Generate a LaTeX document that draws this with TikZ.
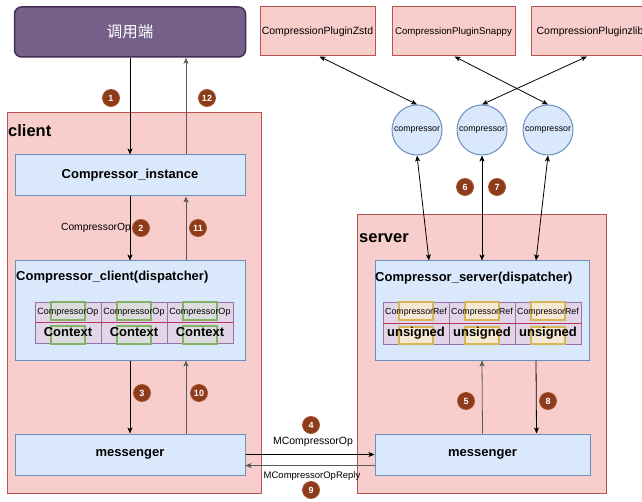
\documentclass[tikz,border=0pt]{standalone}
\usepackage{fontspec}
\setmainfont{Liberation Sans}
\newfontfamily\cjkfont{Noto Sans CJK SC}
\usepackage{xcolor}
\usetikzlibrary{positioning,calc,arrows.meta}
\definecolor{pinkfill}{HTML}{F8CECC}
\definecolor{pinkline}{HTML}{B85450}
\definecolor{bluefill}{HTML}{DAE8FC}
\definecolor{blueline}{HTML}{6C8EBF}
\definecolor{callerfill}{HTML}{76608A}
\definecolor{callerline}{HTML}{432D57}
\definecolor{cellfill}{HTML}{E1D5E7}
\definecolor{cellline}{HTML}{9673A6}
\definecolor{divline}{HTML}{B3385E}
\definecolor{greenline}{HTML}{82B366}
\definecolor{greenfill}{HTML}{D5E8D4}
\definecolor{yellowline}{HTML}{D6B656}
\definecolor{yellowfill}{HTML}{FFF2CC}
\definecolor{numfill}{HTML}{8E3B1B}
\definecolor{numline}{HTML}{A0522D}

\begin{document}
\begin{tikzpicture}[x=1pt,y=-1pt,
	pinkbox/.style={draw=pinkline,fill=pinkfill,line width=1pt,inner sep=0pt},
	bluebox/.style={draw=blueline,fill=bluefill,line width=1pt,inner sep=0pt},
	cell/.style={draw=cellline,fill=cellfill,line width=0.8pt,inner sep=0pt,minimum width=66pt},
	greenbox/.style={draw=greenline,fill=greenfill,fill opacity=0.4,line width=1.8pt,inner sep=0pt,minimum width=34pt},
	yellowbox/.style={draw=yellowline,fill=yellowfill,fill opacity=0.7,line width=1.8pt,inner sep=0pt,minimum width=34pt},
	small/.style={inner sep=0pt,font=\fontsize{9}{10}\selectfont},
	num/.style={circle,draw=numline,fill=numfill,line width=0.8pt,text=white,font=\fontsize{9}{9}\selectfont\bfseries,inner sep=0pt,minimum size=17pt},
	bold13/.style={font=\fontsize{13}{15}\selectfont\bfseries},
	arr/.style={-{Stealth[length=6pt,width=5pt,inset=1.5pt]},black,line width=0.8pt},
	arrg/.style={-{Stealth[length=6pt,width=5pt,inset=1.5pt]},black!65,line width=0.8pt},
	darr/.style={{Stealth[length=6pt,width=5pt,inset=1.5pt]}-{Stealth[length=6pt,width=5pt,inset=1.5pt]},black,line width=0.8pt}]
	\clip (0,0) rectangle (642,502);
	\node[pinkbox,minimum width=254pt,minimum height=380pt] (client) at (134,303) {};
	\node[pinkbox,minimum width=249pt,minimum height=278pt] (server) at (481.5,354) {};
	\node[anchor=west,inner sep=0pt,font=\fontsize{16.5}{18}\selectfont\bfseries] (clientlbl) at (8,131) {client};
	\node[anchor=west,inner sep=0pt,font=\fontsize{16.5}{18}\selectfont\bfseries] (serverlbl) at (359,238) {server};
	\node[draw=callerline,fill=callerfill,rounded corners=7pt,line width=1.5pt,minimum width=231pt,minimum height=50pt,text=white,font=\cjkfont\fontsize{15.5}{17}\selectfont] (caller) at (130,32) {调用端};
	\node[pinkbox,minimum width=115pt,minimum height=49pt,font=\fontsize{10.5}{12}\selectfont] (zstd) at (317.5,31.5) {CompressionPluginZstd};
	\node[pinkbox,minimum width=123pt,minimum height=49pt,font=\fontsize{9.7}{12}\selectfont] (snappy) at (453.5,31.5) {CompressionPluginSnappy};
	\node[pinkbox,minimum width=118pt,minimum height=49pt,font=\fontsize{10.5}{12}\selectfont] (zlib) at (590,31.5) {CompressionPluginzlib};
	\foreach \name/\x in {c1/417,c2/482,c3/548}
		\node[circle,bluebox,minimum size=50pt,font=\fontsize{8.8}{10}\selectfont] (\name) at (\x,130) {compressor};
	\node[bluebox,bold13,minimum width=230pt,minimum height=41pt] (inst) at (130,175.5) {Compressor\_instance};
	\node[bluebox,minimum width=230pt,minimum height=99pt] (cdisp) at (130,310.5) {};
	\node[bluebox,minimum width=214pt,minimum height=99pt] (sdisp) at (482,310.5) {};
	\node[anchor=west,inner sep=0pt,bold13] (ctitle) at (16,277) {Compressor\_client(dispatcher)};
	\node[anchor=west,inner sep=0pt,bold13] (stitle) at (375,278) {Compressor\_server(dispatcher)};
	\node[bluebox,bold13,minimum width=230pt,minimum height=41pt] (msgc) at (130,454.5) {messenger};
	\node[bluebox,bold13,minimum width=215pt,minimum height=41pt] (msgs) at (482.5,454.5) {messenger};
	\foreach \i in {0,1,2}{
		\node[cell,minimum height=20pt] (ct\i) at (68+66*\i,312) {};
		\node[cell,minimum height=21pt] (cb\i) at (68+66*\i,332.5) {};
		\node[cell,minimum height=21pt] (st\i) at (416+66*\i,312.5) {};
		\node[cell,minimum height=21pt] (sb\i) at (416+66*\i,333.5) {};
	}
	\draw[divline,line width=1pt] (ct0.south west) -- (ct2.south east);
	\draw[divline,line width=1pt] (st0.south west) -- (st2.south east);
	\foreach \i in {0,1,2}{
		\node[greenbox,minimum height=18pt] (cg\i) at (68+66*\i,311) {};
		\node[greenbox,minimum height=18pt] (ch\i) at (68+66*\i,335) {};
		\node[yellowbox,minimum height=18pt] (sy\i) at (416+66*\i,311) {};
		\node[yellowbox,minimum height=17pt] (sz\i) at (416+66*\i,335.5) {};
		\node[small] (ctt\i) at (ct\i) {CompressorOp};
		\node[inner sep=0pt,bold13] (cbt\i) at (cb\i) {Context};
		\node[small,font=\fontsize{8.8}{10}\selectfont] (stt\i) at (st\i) {CompressorRef};
		\node[inner sep=0pt,bold13] (sbt\i) at (sb\i) {unsigned};
	}
	\draw[arr] (caller.south) -- (inst.north);
	\draw[arrg] ([xshift=56pt]inst.north) -- ([xshift=56pt]caller.south);
	\draw[arr] (inst.south) -- (cdisp.north);
	\draw[arrg] ([xshift=56pt]cdisp.north) -- ([xshift=56pt]inst.south);
	\draw[arr] (cdisp.south) -- (msgc.north);
	\draw[arrg] ([xshift=56pt]msgc.north) -- ([xshift=56pt]cdisp.south);
	\draw[arr] (msgc.east) -- (msgs.west);
	\draw[arrg] ([yshift=-11pt]msgs.west) -- ([yshift=-11pt]msgc.east);
	\draw[arrg] (msgs.north) -- (sdisp.south);
	\draw[arr] ([xshift=54pt]sdisp.south) -- ([xshift=54pt]msgs.north);
	\draw[darr] (c1.south) -- ([xshift=-53pt]sdisp.north);
	\draw[darr] (c2.south) -- (sdisp.north);
	\draw[darr] (c3.south) -- ([xshift=54pt]sdisp.north);
	\draw[darr] ([xshift=2pt]zstd.south) -- (c1.north);
	\draw[darr] ([xshift=1pt]snappy.south) -- (c3.north);
	\draw[darr] ([xshift=-3pt]zlib.south) -- (c2.north);
	\node[font=\fontsize{10.3}{12}\selectfont,inner sep=0pt] (oplbl) at (96,228) {CompressorOp};
	\node[font=\fontsize{10.5}{12}\selectfont,inner sep=0pt] (reqlbl) at (313,442) {MCompressorOp};
	\node[font=\fontsize{9.5}{11}\selectfont,inner sep=0pt] (replbl) at (312,476) {MCompressorOpReply};
	\node[num] (n1) at (111,98) {1};
	\node[num] (n2) at (141,228) {2};
	\node[num] (n3) at (142,393) {3};
	\node[num] (n4) at (311,425) {4};
	\node[num] (n5) at (466,401) {5};
	\node[num] (n6) at (465,187) {6};
	\node[num] (n7) at (497,187) {7};
	\node[num] (n8) at (548,401) {8};
	\node[num] (n9) at (311,490) {9};
	\node[num] (n10) at (199,393) {10};
	\node[num] (n11) at (198,228) {11};
	\node[num] (n12) at (207,98) {12};
\end{tikzpicture}
\end{document}
